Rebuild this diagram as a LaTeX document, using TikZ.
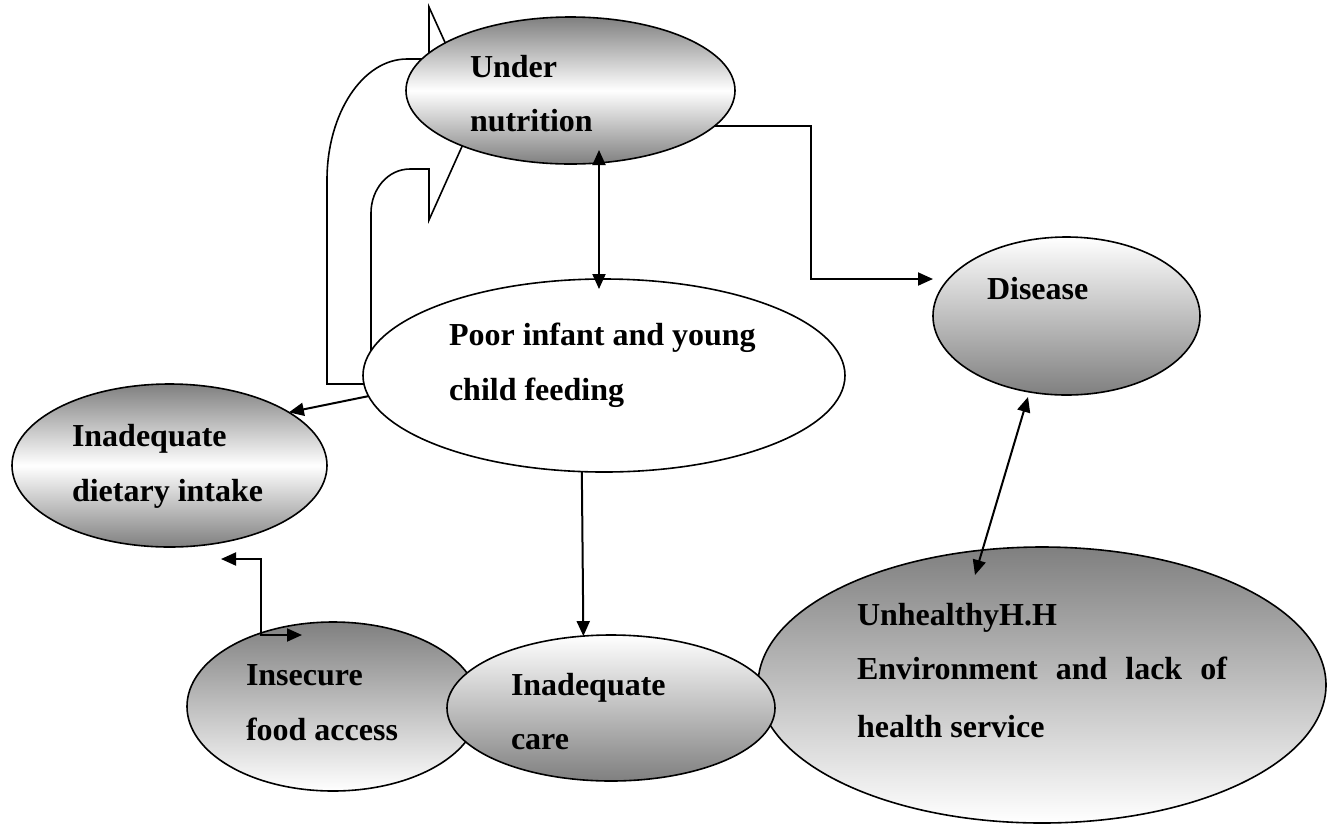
\documentclass[tikz,border=0pt]{standalone}
\usepackage{fontspec}
\setmainfont{Liberation Serif}
\usetikzlibrary{arrows.meta,shapes.geometric}
\begin{document}
\begin{tikzpicture}[x=0.5pt,y=-0.5pt,
  oval/.style={ellipse,draw,line width=0.8pt,inner sep=0pt,outer sep=0pt},
  txt/.style={anchor=north west,inner sep=0pt,outer sep=0pt,align=left,font=\bfseries\fontsize{16}{27.5}\selectfont},
  tip/.tip={Triangle[length=7.5pt,width=6.5pt]},
  conn/.style={line width=1pt,-tip},
  conntwo/.style={line width=1pt,tip-tip},
  blockarrow/.style={line width=0.8pt,line join=miter}
]
\useasboundingbox (0,0) rectangle (1335,832);

% block (U-turn) arrow from the feeding ellipse into under nutrition
\draw[blockarrow] (390,384) -- (327,384) -- (327,180)
  .. controls (327,113) and (363,59) .. (407,59) -- (429,59) -- (429,7)
  -- (477,113) -- (429,220) -- (429,169) -- (410,169)
  .. controls (388,169) and (371,189) .. (371,213) -- (371,370);

% ellipses
\node[oval, top color=gray, bottom color=gray, middle color=white,
      minimum width=164.5pt, minimum height=73.5pt] (under) at (570.5,90.5) {};
\node[oval, top color=white, bottom color=gray,
      minimum width=133.5pt, minimum height=79pt] (disease) at (1066.5,316) {};
\node[oval, fill=white,
      minimum width=241pt, minimum height=96.5pt] (poor) at (604,375.5) {};
\node[oval, top color=gray, bottom color=gray, middle color=white,
      minimum width=157.5pt, minimum height=81.5pt] (diet) at (169.5,465.5) {};
\node[oval, top color=gray, bottom color=white,
      minimum width=146pt, minimum height=84.5pt] (insec) at (333,706.5) {};
\node[oval, top color=gray, bottom color=white,
      minimum width=284pt, minimum height=138pt] (unh) at (1042,685) {};
\node[oval, top color=white, bottom color=gray,
      minimum width=164pt, minimum height=73pt] (care) at (611,708) {};

% texts
\node[txt, font=\bfseries\fontsize{16}{27}\selectfont] (underT) at (470,55) {\rule{0pt}{11pt}Under\\nutrition};
\node[txt] (diseaseT) at (987,277) {\rule{0pt}{11pt}Disease};
\node[txt] (poorT) at (449,323) {\rule{0pt}{11pt}Poor infant and young\\child feeding};
\node[txt] (dietT) at (72,424) {\rule{0pt}{11pt}Inadequate\\dietary intake};
\node[txt] (insecT) at (246,663) {\rule{0pt}{11pt}Insecure\\food access};
\node[txt, font=\bfseries\fontsize{16}{27}\selectfont] (careT) at (511,673) {\rule{0pt}{11pt}Inadequate\\care};
\node[txt, font=\bfseries\fontsize{16}{27}\selectfont] (unhT) at (857,603)
  {\rule{0pt}{11pt}UnhealthyH.H\\\makebox[185pt][s]{Environment and lack of}\\[2pt]health service};

% connectors
\coordinate (a1) at (599,150);
\coordinate (a2) at (599,289);
\draw[conntwo] (a1) -- (a2);

\coordinate (b2) at (811,279);
\draw[conn] (under.-14.2) -| (b2) -- (disease.west |- b2);

\draw[conn] (poor.185.5) -- (diet.24.5);
\draw[conn] (poor.257.2) -- (care.111.9);

\coordinate (c1) at (221,559);
\coordinate (c2) at (261,559);
\coordinate (c3) at (261,635);
\coordinate (c4) at (302,635);
\draw[conntwo] (c1) -- (c2) -- (c3) -- (c4);

\coordinate (d1) at (1028,397);
\coordinate (d2) at (975,575);
\draw[conntwo] (d1) -- (d2);
\end{tikzpicture}
\end{document}
